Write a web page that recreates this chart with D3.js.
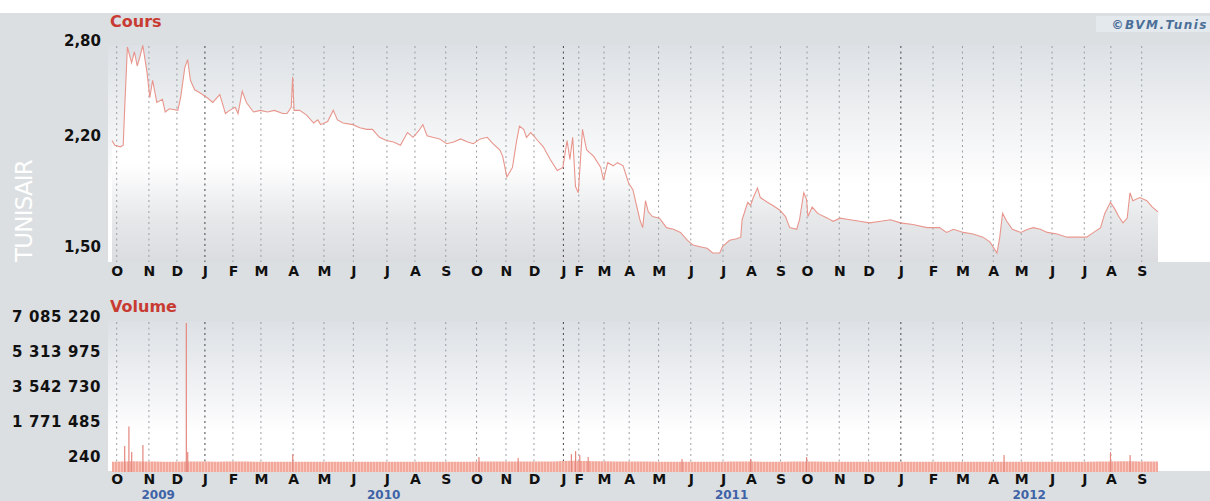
<!DOCTYPE html>
<html><head><meta charset="utf-8">
<script src="https://cdnjs.cloudflare.com/ajax/libs/d3/7.8.5/d3.min.js"></script>
<style>html,body{margin:0;padding:0;background:#fff}svg{display:block}</style>
</head><body><svg id="c" width="1210" height="501"></svg>
<script>
// ---------- DATA ----------
const stockName = "TUNISAIR";
const monthLabels = ["O","N","D","J","F","M","A","M","J","J","A","S","O","N","D","J","F","M","A","M","J","J","A","S","O","N","D","J","F","M","A","M","J","J","A","S"];
// first trading session index of each month (x axis is trading-session based)
const monthStartSession = [3,26,46,66,86,106,129,151,172,196,216,238,260,281,301,322,333,351,369,390,413,436,456,477,496,519,540,563,586,607,629,649,671,694,713,735];
const yearLabels = ["2009","2010","2011","2012"];
const yearFirstSession = [0,66,322,563];
const lastSession = 747;
const priceTicks = [1.5, 2.2, 2.8];
const volumeTicks = [240, 1771485, 3542730, 5313975, 7085220];
// closing price [session, value]
const price = [
[0,2.21],[2,2.18],[6,2.17],[8,2.18],[9,2.40],[11,2.80],[14,2.70],[16,2.77],[18,2.68],[20,2.74],[22,2.81],
[25,2.64],[27,2.48],[29,2.59],[32,2.45],[36,2.47],[38,2.39],[41,2.41],[47,2.40],[49,2.48],[52,2.67],[54,2.72],
[56,2.59],[59,2.53],[63,2.51],[68,2.48],[72,2.45],[77,2.50],[81,2.38],[84,2.40],[88,2.42],[90,2.38],[93,2.52],
[96,2.45],[101,2.39],[106,2.40],[111,2.39],[116,2.40],[122,2.38],[125,2.38],[128,2.42],[129,2.61],[130,2.40],
[134,2.40],[139,2.37],[144,2.32],[147,2.34],[149,2.31],[154,2.33],[158,2.40],[161,2.34],[165,2.32],[172,2.31],
[177,2.29],[182,2.28],[186,2.28],[191,2.23],[196,2.21],[201,2.20],[206,2.18],[211,2.26],[215,2.23],[219,2.27],
[222,2.31],[225,2.24],[229,2.23],[234,2.22],[239,2.19],[244,2.20],[249,2.22],[254,2.20],[258,2.19],[263,2.22],
[268,2.23],[272,2.19],[277,2.15],[279,2.11],[282,1.98],[284,2.01],[286,2.04],[289,2.21],[291,2.30],[294,2.28],
[296,2.23],[299,2.26],[301,2.24],[304,2.21],[308,2.17],[313,2.09],[318,2.02],[322,2.04],[325,2.21],[327,2.09],
[329,2.23],[331,1.92],[333,1.88],[336,2.28],[338,2.19],[339,2.15],[344,2.11],[349,2.04],[351,1.96],[354,2.07],
[358,2.05],[361,2.07],[365,2.05],[369,1.94],[372,1.90],[377,1.71],[379,1.66],[381,1.83],[383,1.76],[386,1.73],
[391,1.72],[396,1.66],[401,1.65],[406,1.63],[411,1.58],[415,1.55],[420,1.54],[425,1.53],[429,1.50],[434,1.50],
[436,1.54],[441,1.58],[446,1.59],[449,1.60],[450,1.71],[454,1.82],[456,1.80],[458,1.85],[461,1.91],[463,1.85],
[468,1.82],[472,1.80],[477,1.77],[481,1.73],[484,1.66],[489,1.65],[491,1.71],[494,1.88],[496,1.84],[497,1.73],
[500,1.79],[504,1.75],[511,1.72],[515,1.70],[520,1.72],[527,1.71],[534,1.70],[541,1.69],[549,1.70],[556,1.71],
[563,1.69],[572,1.68],[582,1.66],[591,1.66],[596,1.63],[601,1.65],[608,1.63],[615,1.62],[622,1.60],[627,1.57],
[632,1.50],[634,1.60],[636,1.75],[639,1.70],[643,1.65],[649,1.63],[654,1.65],[658,1.66],[663,1.65],[668,1.63],
[675,1.62],[682,1.60],[689,1.60],[696,1.60],[701,1.63],[706,1.66],[709,1.75],[713,1.82],[716,1.78],[719,1.73],
[722,1.69],[725,1.72],[727,1.88],[729,1.83],[734,1.85],[739,1.83],[743,1.79],[747,1.76]
];
// usual daily volume level [session, volume]
const volumeBase = [
[0,60000],[15,90000],[30,70000],[45,60000],[60,70000],[75,60000],[90,70000],[105,60000],[120,60000],[135,60000],
[150,60000],[165,60000],[180,60000],[195,60000],[210,60000],[225,60000],[240,60000],[255,60000],[270,70000],
[285,70000],[300,70000],[315,80000],[330,120000],[345,90000],[360,80000],[375,70000],[390,60000],[405,60000],
[420,60000],[435,60000],[450,70000],[465,60000],[480,60000],[495,70000],[510,60000],[525,60000],[540,60000],
[555,60000],[570,60000],[585,60000],[600,60000],[615,60000],[630,60000],[645,60000],[660,60000],[675,60000],
[690,60000],[705,70000],[720,90000],[735,80000],[747,70000]
];
// notable volume spikes [session, volume]
const volumeSpikes = [
[9,860000],[12,1850000],[14,560000],[22,910000],[53,7085220],[54,560000],[129,450000],[262,300000],[290,250000],
[328,450000],[331,600000],[334,400000],[340,300000],[407,200000],[456,200000],[496,300000],[637,400000],
[713,550000],[727,400000]
];

// ---------- LAYOUT ----------
const W = 1210, H = 501;
const svg = d3.select("#c");
const defs = svg.append("defs");
const x = d3.scaleLinear().domain([0, lastSession]).range([112, 1158]);
const P = {left:108, right:W, top:45, bottom:262};
const V = {left:108, right:W, top:321, bottom:471};
const yP = d3.scaleLinear().domain([1.5, 2.8]).range([253, 47]);
const yV = d3.scaleLinear().domain([240, 7085220]).range([463, 323]);

function grad(id, stops, y1, y2){
  const g = defs.append("linearGradient").attr("id", id).attr("gradientUnits","userSpaceOnUse")
    .attr("x1",0).attr("x2",0).attr("y1",y1).attr("y2",y2);
  stops.forEach(s => g.append("stop").attr("offset", s[0]).attr("stop-color", s[1]));
}
grad("gP", [[0,"#dde1e5"],[0.45,"#f5f6f7"],[0.65,"#ffffff"],[1,"#ffffff"]], P.top, P.bottom);
grad("gF", [[0,"#ffffff"],[0.55,"#ffffff"],[0.8,"#e6e8ea"],[1,"#dadcdf"]], P.top, P.bottom);
grad("gV", [[0,"#dde1e5"],[0.5,"#f3f4f6"],[0.75,"#ffffff"],[1,"#ffffff"]], V.top, V.bottom);
const pat = defs.append("pattern").attr("id","stripe").attr("patternUnits","userSpaceOnUse")
  .attr("width",3).attr("height",10);
pat.append("rect").attr("width",3).attr("height",10).attr("fill","#f3a89c");
pat.append("rect").attr("width",1).attr("height",10).attr("fill","#f8c6bd");

// page background
svg.append("rect").attr("width",W).attr("height",H).attr("fill","#dcdfe2");
svg.append("rect").attr("width",W).attr("height",13).attr("fill","#ffffff");

// plot backgrounds
svg.append("rect").attr("x",P.left).attr("y",P.top).attr("width",P.right-P.left).attr("height",P.bottom-P.top).attr("fill","url(#gP)");
svg.append("rect").attr("x",V.left).attr("y",V.top).attr("width",V.right-V.left).attr("height",V.bottom-V.top).attr("fill","url(#gV)");

// stock name
svg.append("text").attr("transform","translate(32,262) rotate(-90)")
  .attr("font-family","DejaVu Sans, sans-serif").attr("font-size",23).attr("fill","#ffffff")
  .attr("letter-spacing",-0.8).text(stockName);

// titles
svg.append("text").attr("x",110).attr("y",27).attr("font-family","DejaVu Sans, sans-serif").attr("font-weight","bold")
  .attr("font-size",16).attr("fill","#c83b33").text("Cours");
svg.append("text").attr("x",110).attr("y",312).attr("font-family","DejaVu Sans, sans-serif").attr("font-weight","bold")
  .attr("font-size",16).attr("fill","#c83b33").text("Volume");
svg.append("rect").attr("x",1096).attr("y",16).attr("width",114).attr("height",16).attr("fill","#e4e9ee");
svg.append("text").attr("x",1208).attr("y",29).attr("text-anchor","end").attr("font-family","DejaVu Sans, sans-serif")
  .attr("font-style","italic").attr("font-weight","bold").attr("font-size",12).attr("letter-spacing",1.5)
  .attr("fill","#4b6f98").text("©BVM.Tunis");

// price area + line
const area = d3.area().x(d=>x(d[0])).y0(P.bottom).y1(d=>yP(d[1]));
svg.append("path").datum(price).attr("d",area).attr("fill","url(#gF)");

// grid lines (month starts)
const yearStartSet = new Set(yearFirstSession.slice(1));
function grid(top, bottom){
  svg.append("g").selectAll("line").data(monthStartSession).join("line")
    .attr("x1",d=>x(d)+0.5).attr("x2",d=>x(d)+0.5).attr("y1",top).attr("y2",bottom)
    .attr("stroke",d=>yearStartSet.has(d)?"#444":"#9a9ea3").attr("stroke-width",1)
    .attr("stroke-dasharray","2,3.5");
}
grid(P.top+1, P.bottom);
grid(V.top+1, V.bottom);

const line = d3.line().x(d=>x(d[0])).y(d=>yP(d[1]));
svg.append("path").datum(price).attr("d",line).attr("fill","none").attr("stroke","#e8968d").attr("stroke-width",1.1);

// volume
const vArea = d3.area().curve(d3.curveMonotoneX).x(d=>x(d[0])).y0(V.bottom+1).y1(d=>yV(d[1]));
svg.append("path").datum(volumeBase).attr("d",vArea).attr("fill","url(#stripe)");
svg.append("g").selectAll("rect").data(volumeSpikes).join("rect")
  .attr("x",d=>x(d[0])-0.5).attr("width",1.2).attr("y",d=>yV(d[1])).attr("height",d=>V.bottom+1-yV(d[1]))
  .attr("fill","#e4877e");

// y axes
const fmtP = d => d3.format(".2f")(d).replace(".", ",");
const fmtV = d => d3.format(",")(d).replace(/,/g, " ");
const axP = d3.axisLeft(yP).tickValues(priceTicks).tickFormat(fmtP).tickSize(0).tickPadding(0);
const gP = svg.append("g").attr("transform","translate(101,0)").call(axP);
const axV = d3.axisLeft(yV).tickValues(volumeTicks).tickFormat(fmtV).tickSize(0).tickPadding(0);
const gV = svg.append("g").attr("transform","translate(101,0)").call(axV);
[gP,gV].forEach(g=>{
  g.select(".domain").remove();
  g.selectAll("text").attr("font-family","DejaVu Sans, sans-serif").attr("font-weight","bold")
   .attr("font-size",15).attr("fill","#111").attr("dy","-0.1em");
});
gV.selectAll("text").attr("letter-spacing",0.6);

// x axes (month letters)
function monthAxis(yPos){
  const ax = d3.axisBottom(x).tickValues(monthStartSession)
    .tickFormat((d,i)=>monthLabels[i]).tickSize(0).tickPadding(0);
  const g = svg.append("g").attr("transform",`translate(0.5,${yPos})`).call(ax);
  g.select(".domain").remove();
  g.selectAll("text").attr("font-family","DejaVu Sans, sans-serif").attr("font-weight","bold")
   .attr("font-size",14).attr("fill","#111").attr("dy",0);
}
monthAxis(276);
monthAxis(484);

// year labels centred on the visible part of each year
svg.append("g").selectAll("text").data(yearLabels).join("text")
  .attr("x",(d,i)=>x(((yearFirstSession[i]) + (i+1<yearFirstSession.length?yearFirstSession[i+1]:lastSession))/2))
  .attr("y",499).attr("text-anchor","middle").attr("font-family","DejaVu Sans, sans-serif")
  .attr("font-weight","bold").attr("font-size",12).attr("fill","#3e63a6").text(d=>d);
</script></body></html>
